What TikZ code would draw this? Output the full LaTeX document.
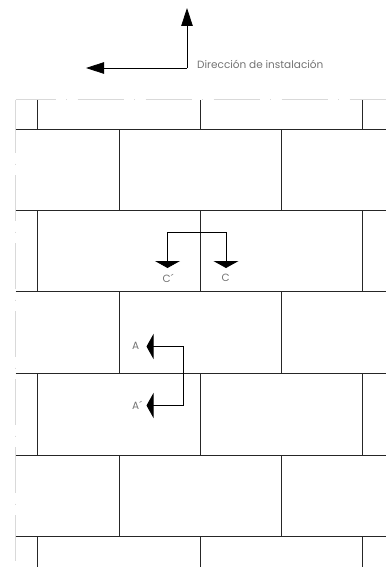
\documentclass[tikz,border=0pt]{standalone}
\usepackage{fontspec}
\setmainfont{Poppins}
\usetikzlibrary{arrows.meta}
\tikzset{joint/.style={draw=black!85, line width=0.8pt},
% the guide lines mark the edge of the laid area
guide/.style={draw=black!15, line width=1pt, dash pattern=on 46pt off 10.5pt on 1pt off 10.5pt},
line/.style={draw=black, line width=0.8pt},
bigtip/.style={-{Triangle[length=18pt,width=11.5pt]}},
flattip/.style={-{Triangle[length=7pt,width=25pt]}},
tag/.style={text=black!55, font=\fontsize{10.5}{12}\selectfont, inner sep=0pt}
}
\begin{document}
\begin{tikzpicture}[x=1pt,y=-1pt]
    \useasboundingbox (0,0) rectangle (386,567);
    \draw[guide,dash phase=6pt] (15.5,100) -- (386,100);
    \draw[guide,dash pattern=on 53pt off 10.5pt on 1pt off 10.5pt on 46pt off 10.5pt on 1pt off 10.5pt on 46pt off 10.5pt on 1pt off 10.5pt on 46pt off 10.5pt on 1pt off 10.5pt on 46pt off 10.5pt on 1pt off 10.5pt on 46pt off 10.5pt on 1pt off 10.5pt on 46pt] (15.5,100) -- (15.5,567);
    \foreach \y in {129.5,210.5,291.5,373,455,536}
      \draw[joint] (15.5,\y) -- (386,\y);
    \foreach \x in {37.5,200,362.5} {
      \draw[joint] (\x,100) -- (\x,129.5);
      \draw[joint] (\x,210.5) -- (\x,291.5);
      \draw[joint] (\x,373) -- (\x,455);
      \draw[joint] (\x,536) -- (\x,567);
    }
    \foreach \x in {119,281.5} {
      \draw[joint] (\x,129.5) -- (\x,210.5);
      \draw[joint] (\x,291.5) -- (\x,373);
      \draw[joint] (\x,455) -- (\x,536);
    }
    \coordinate (dirup) at (187,8);
    \coordinate (dircorner) at (187,68);
    \coordinate (dirleft) at (86,68);
    \node[tag,anchor=west] (dirlabel) at (197,64) {Dirección de instalación};
    \draw[line,bigtip] (dircorner) -- (dirup);
    \draw[line,bigtip] (dircorner) -- (dirleft);
    \node[tag,anchor=west] (cprime) at (162.5,278) {C´};
    \node[tag,anchor=west] (c) at (221.5,278) {C};
    \coordinate (ctopl) at (167.5,232);
    \coordinate (ctopr) at (226,232);
    \draw[line,flattip] (ctopr) -- (ctopl) -- (167.5,268);
    \draw[line,flattip] (ctopl) -- (ctopr) -- (226,268);
    \node[tag,anchor=west] (a) at (132,346) {A};
    \node[tag,anchor=west] (aprime) at (132,405) {A´};
    \coordinate (aright) at (183.5,346.5);
    \coordinate (aprimeright) at (183.5,405.5);
    \draw[line,flattip] (aprimeright) -- (aright) -- (146.5,346.5);
    \draw[line,flattip] (aright) -- (aprimeright) -- (146.5,405.5);
\end{tikzpicture}
\end{document}
